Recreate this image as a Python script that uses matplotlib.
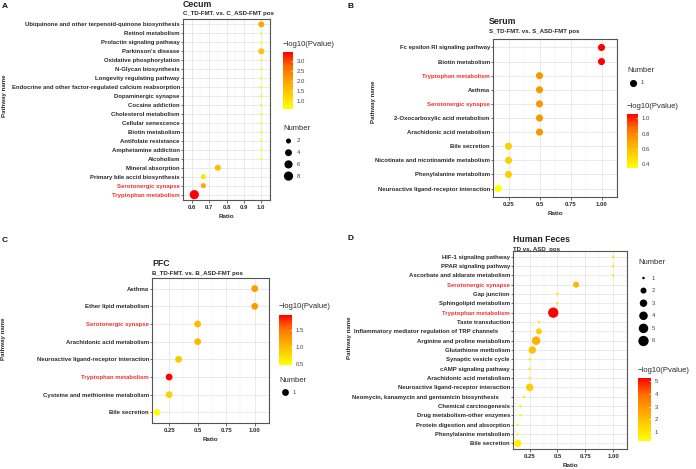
import numpy as np
import matplotlib
matplotlib.use("Agg")
import matplotlib.pyplot as plt
from matplotlib.colors import LinearSegmentedColormap, Normalize
from matplotlib.cm import ScalarMappable

#========== DATA ==========#

A_path = ["Ubiquinone and other terpenoid-quinone biosynthesis", "Retinol metabolism",
          "Prolactin signaling pathway", "Parkinson's disease", "Oxidative phosphorylation",
          "N-Glycan biosynthesis", "Longevity regulating pathway",
          "Endocrine and other factor-regulated calcium reabsorption", "Dopaminergic synapse",
          "Cocaine addiction", "Cholesterol metabolism", "Cellular senescence",
          "Biotin metabolism", "Antifolate resistance", "Amphetamine addiction", "Alcoholism",
          "Mineral absorption", "Primary bile accid biosynthesis", "Serotonergic synapse",
          "Tryptophan metabolism"]
A_ratio = [1.0, 1.0, 1.0, 1.0, 1.0, 1.0, 1.0, 1.0, 1.0, 1.0, 1.0, 1.0, 1.0, 1.0, 1.0, 1.0,
           0.75, 0.667, 0.667, 0.615]
A_number = [3, 1, 1, 3, 1, 1, 1, 1, 1, 1, 1, 1, 1, 1, 1, 1, 3, 2, 2, 8]
A_logp = [1.95, 0.68, 0.66, 1.55, 0.70, 0.72, 0.66, 0.65, 0.70, 0.68, 0.66, 0.64, 0.66, 0.63,
          0.67, 0.66, 1.60, 1.05, 1.95, 3.44]

B_path = ["Fc epsilon RI signaling pathway", "Biotin metabolism", "Tryptophan metabolism",
          "Asthma", "Serotonergic synapse", "2-Oxocarboxylic acid metabolism",
          "Arachidonic acid metabolism", "Bile secretion",
          "Nicotinate and nicotinamide metabolism", "Phenylalanine metabolism",
          "Neuroactive ligand-receptor interaction"]
B_ratio = [1.0, 1.0, 0.5, 0.5, 0.5, 0.5, 0.5, 0.25, 0.25, 0.25, 0.167]
B_number = [1, 1, 1, 1, 1, 1, 1, 1, 1, 1, 1]
B_logp = [1.056, 1.056, 0.74, 0.74, 0.74, 0.74, 0.74, 0.54, 0.54, 0.54, 0.352]

C_path = ["Asthma", "Ether lipid metabolism", "Serotonergic synapse",
          "Arachidonic acid metabolism", "Neuroactive ligand-receptor interaction",
          "Tryptophan metabolism", "Cysteine and methionine metabolism", "Bile secretion"]
C_ratio = [1.0, 1.0, 0.5, 0.5, 0.333, 0.25, 0.25, 0.143]
C_number = [1, 1, 1, 1, 1, 1, 1, 1]
C_logp = [1.25, 1.25, 1.02, 1.02, 0.92, 1.94, 0.85, 0.48]

D_path = ["HIF-1 signaling pathway", "PPAR signaling pathway",
          "Ascorbate and aldarate metabolism", "Serotonergic synapse", "Gap junction",
          "Sphingolipid metabolism", "Tryptophan metabolism", "Taste transduction",
          "Inflammatory mediator regulation of TRP channels       ",
          "Arginine and proline metabolism", "Glutathione metbolism",
          "Synaptic vesicle cycle", "cAMP signaling pathway", "Arachidonic acid metabolism",
          "Neuroactive ligand-receptor interaction",
          "Neomycin, kanamycin and gentamicin biosynthesis       ",
          "Chemical carcinogenesis", "Drug metabolism-other enzymes",
          "Protein digestion and absorption", "Phenylalanine metabolism", "Bile secretion"]
D_ratio = [1.0, 1.0, 1.0, 0.667, 0.5, 0.5, 0.462, 0.333, 0.333, 0.308, 0.273, 0.25, 0.25,
           0.25, 0.25, 0.2, 0.167, 0.167, 0.143, 0.143, 0.143]
D_number = [1, 1, 1, 2, 1, 1, 6, 1, 2, 4, 3, 1, 1, 1, 3, 1, 1, 1, 1, 1, 3]
D_logp = [0.90, 1.0, 1.0, 2.3, 1.0, 0.95, 5.26, 0.85, 1.6, 2.4, 1.95, 0.8, 0.8, 0.8, 1.65,
          0.7, 0.6, 0.6, 0.45, 0.31, 0.65]

HIGHLIGHT = ["Tryptophan metabolism", "Serotonergic synapse"]

#========== STYLE ==========#

W, H = 696, 469
plt.rcParams['font.family'] = ['Liberation Sans', 'DejaVu Sans']
CMAP = LinearSegmentedColormap.from_list(
    "yr", [(0, "#FFFF00"), (0.25, "#FFD100"), (0.5, "#FFA100"), (0.75, "#FF6B00"), (1, "#FF0000")])
TXT = "#2B2B2B"
RED = "#F03030"
FS_TICK = 4.35

fig = plt.figure(figsize=(W / 100, H / 100), dpi=100)

# overlay in pixel coordinates, for titles and legends
ov = fig.add_axes([0, 0, 1, 1])
ov.set_xlim(0, W)
ov.set_ylim(H, 0)
ov.axis("off")


def px_axes(x0, y0, x1, y1):
    """ axes from pixel box (top-left origin) """
    return fig.add_axes([x0 / W, 1 - y1 / H, (x1 - x0) / W, (y1 - y0) / H])


def diam(v, vmin, vmax, dmin, dmax):
    """ dot diameter in px, area-like scaling as in ggplot """
    v = np.asarray(v, float)
    if vmax == vmin:
        return np.full(v.shape, dmax)
    return dmin + (dmax - dmin) * np.sqrt((v - vmin) / (vmax - vmin))


def bubble_panel(box, names, ratio, number, logp, xlim, xticks, xlabels, d_range):
    ax = px_axes(*box)
    n = len(names)
    ypos = np.arange(n)[::-1]
    d = diam(number, min(number), max(number), *d_range)
    ax.scatter(ratio, ypos, s=(d * 0.72) ** 2, c=logp, cmap=CMAP,
               vmin=min(logp), vmax=max(logp), linewidths=0, zorder=3)
    ax.set_xlim(*xlim)
    ax.set_ylim(-0.6, n - 0.4)
    ax.set_yticks(ypos)
    ax.set_yticklabels(names, fontsize=FS_TICK, fontweight="bold", color=TXT)
    for lab in ax.get_yticklabels():
        if lab.get_text().strip() in HIGHLIGHT:
            lab.set_color(RED)
    ax.set_xticks(xticks)
    ax.set_xticklabels(xlabels, fontsize=FS_TICK, fontweight="bold", color=TXT)
    mids = [(a + b) / 2 for a, b in zip(xticks[:-1], xticks[1:])]
    step = xticks[1] - xticks[0]
    ax.set_xticks([xticks[0] - step / 2] + mids + [xticks[-1] + step / 2], minor=True)
    ax.grid(which="major", color="#E6E6E6", lw=0.6)
    ax.grid(which="minor", axis="x", color="#F0F0F0", lw=0.35)
    ax.set_axisbelow(True)
    ax.tick_params(which="minor", length=0)
    ax.tick_params(axis="y", length=1.8, width=0.5, color="#333333", pad=0.4)
    ax.tick_params(axis="x", length=1.8, width=0.5, color="#333333", pad=1.8)
    for sp in ax.spines.values():
        sp.set_color("#555555")
        sp.set_linewidth(0.8)
    ax.set_xlabel("Ratio", fontsize=4.5, fontweight="bold", color=TXT, labelpad=3)
    return ax


def colorbar_at(box, logp, ticks, fmt):
    cax = px_axes(*box)
    sm = ScalarMappable(norm=Normalize(min(logp), max(logp)), cmap=CMAP)
    cb = fig.colorbar(sm, cax=cax)
    cb.outline.set_visible(False)
    cb.set_ticks(ticks)
    cb.set_ticklabels([fmt.format(t) for t in ticks])
    cax.tick_params(length=1.5, width=0.4, color="white", direction="in",
                    labelsize=4.3, labelcolor="#444444", pad=2.8)
    ov.text(box[0], box[1] - 8, "\u2212log10(Pvalue)", fontsize=5.5, color=TXT,
            ha="left", va="center")


def size_legend(x, y_title, y0, dy, values, number, d_range):
    ov.text(x, y_title, "Number", fontsize=5.5, color=TXT, ha="left", va="center")
    ys = [y0 + i * dy for i in range(len(values))]
    d = diam(values, min(number), max(number), *d_range)
    ov.scatter([x + 5.5] * len(values), ys, s=(d * 0.72) ** 2, c="black", linewidths=0)
    for v, yy in zip(values, ys):
        ov.text(x + 14, yy, str(v), fontsize=4.3, color="#444444", ha="left", va="center")


def titles(x, y, title, subtitle, label_xy, letter_xy, letter):
    ov.text(x, y, title, fontsize=6.3, fontweight="bold", color="#222222", ha="left", va="center")
    ov.text(x, y + 9.5, subtitle, fontsize=4.4, fontweight="bold", color=TXT,
            ha="left", va="center")
    ov.text(label_xy[0], label_xy[1], "Pathway name", fontsize=4.45, fontweight="bold",
            color=TXT, rotation=90, ha="center", va="center")
    ov.text(letter_xy[0], letter_xy[1], letter, fontsize=6, fontweight="bold", color="#111111",
            ha="center", va="center")


#========== PANELS ==========#

# A - Cecum
A_d = (2.5, 9.2)
bubble_panel((183, 19, 270, 200), A_path, A_ratio, A_number, A_logp, (0.59, 1.012),
             [0.6, 0.7, 0.8, 0.9, 1.0], ["0.6", "0.7", "0.8", "0.9", "1.0"], A_d)
colorbar_at((283, 52, 293, 109), A_logp, [1.0, 1.5, 2.0, 2.5, 3.0], "{:.1f}")
size_legend(283, 128, 141, 11.7, [2, 4, 6, 8], A_number, A_d)
titles(183, 4.5, "Cecum", "C_TD-FMT. vs. C_ASD-FMT pos", (5, 96), (5, 6), "A")

# B - Serum
B_d = (7.1, 7.1)
bubble_panel((493, 39, 617, 197), B_path, B_ratio, B_number, B_logp, (0.125, 1.042),
             [0.25, 0.5, 0.75, 1.0], ["0.25", "0.5", "0.75", "1.00"], B_d)
colorbar_at((627, 114, 638, 168), B_logp, [0.4, 0.6, 0.8, 1.0], "{:.1f}")
size_legend(627, 71, 83, 12, [1], B_number, B_d)
titles(489, 22, "Serum", "S_TD-FMT. vs. S_ASD-FMT pos", (373, 102), (350, 6), "B")

# C - PFC
C_d = (6.8, 6.8)
bubble_panel((152, 278, 269, 423), C_path, C_ratio, C_number, C_logp, (0.1, 1.043),
             [0.25, 0.5, 0.75, 1.0], ["0.25", "0.5", "0.75", "1.00"], C_d)
colorbar_at((279, 315, 292, 365), C_logp, [0.5, 1.0, 1.5], "{:.1f}")
size_legend(279, 381, 392, 12, [1], C_number, C_d)
titles(152, 264, "PFC", "B_TD-FMT. vs. B_ASD-FMT pos", (4, 339), (5, 240), "C")

# D - Human Feces
D_d = (2.5, 10.3)
bubble_panel((513, 251, 627, 449), D_path, D_ratio, D_number, D_logp, (0.1, 1.043),
             [0.25, 0.5, 0.75, 1.0], ["0.25", "0.5", "0.75", "1.00"], D_d)
colorbar_at((638, 378, 651, 441), D_logp, [1, 2, 3, 4, 5], "{:d}")
size_legend(638, 263, 278, 12.6, [1, 2, 3, 4, 5, 6], D_number, D_d)
titles(513, 240, "Human Feces", "TD vs. ASD  pos", (350, 338), (350, 239), "D")

fig.savefig("out.png", dpi=100)
